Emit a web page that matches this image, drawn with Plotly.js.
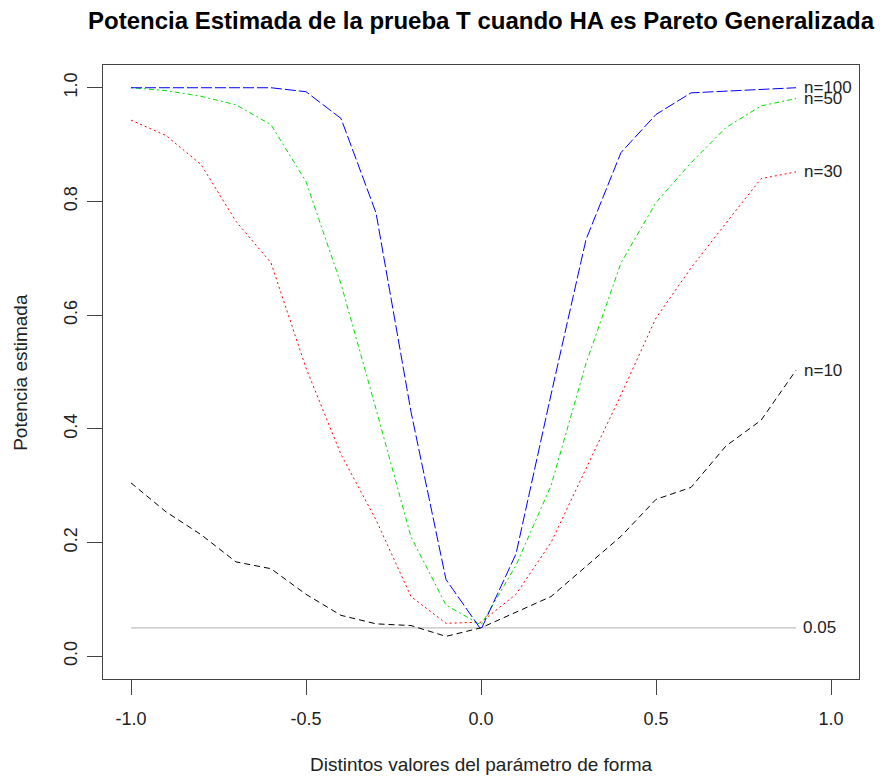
<!DOCTYPE html>
<html>
<head>
<meta charset="utf-8">
<script src="https://cdn.plot.ly/plotly-3.0.1.min.js"></script>
<style>html,body{margin:0;padding:0;background:#fff;}#chart{width:895px;height:780px;}</style>
</head>
<body>
<div id="chart"></div>
<script>
// Shape parameter values
var shapeParam = [-1.0,-0.9,-0.8,-0.7,-0.6,-0.5,-0.4,-0.3,-0.2,-0.1,0.0,0.1,0.2,0.3,0.4,0.5,0.6,0.7,0.8,0.9];
// Estimated power for each sample size
var power_n10  = [0.305,0.254,0.214,0.166,0.154,0.109,0.072,0.057,0.054,0.035,0.050,0.078,0.105,0.158,0.211,0.276,0.297,0.370,0.415,0.503];
var power_n30  = [0.943,0.916,0.865,0.765,0.692,0.507,0.355,0.240,0.105,0.058,0.060,0.109,0.200,0.330,0.460,0.595,0.683,0.762,0.840,0.852];
var power_n50  = [1.000,0.995,0.985,0.970,0.935,0.835,0.655,0.435,0.210,0.090,0.055,0.160,0.300,0.515,0.692,0.798,0.868,0.930,0.968,0.981];
var power_n100 = [1.000,1.000,1.000,1.000,1.000,0.993,0.946,0.780,0.430,0.135,0.047,0.180,0.460,0.733,0.886,0.953,0.991,0.994,0.997,1.000];
var seriesLabels = ["n=10","n=30","n=50","n=100"];
var alphaLevel = 0.05;
var alphaLabel = "0.05";
var xTicks = [-1.0,-0.5,0.0,0.5,1.0];
var xTickText = ["-1.0","-0.5","0.0","0.5","1.0"];
var yTicks = [0.0,0.2,0.4,0.6,0.8,1.0];
var yTickText = ["0.0","0.2","0.4","0.6","0.8","1.0"];

var font = "Liberation Sans, Arial, sans-serif";
var series = [power_n10, power_n30, power_n50, power_n100];
var colors = ["#000000","#ff0000","#00e000","#0000ff"];
var dashes = ["6px,4px","2px,3px","2px,3px,5px,3px","11px,3px"];

var traces = [{
  x: [shapeParam[0], shapeParam[shapeParam.length-1]],
  y: [alphaLevel, alphaLevel],
  mode: "lines", line: {color: "#c0c0c0", width: 1.2}, hoverinfo: "skip"
}];
series.forEach(function(s, i){
  traces.push({x: shapeParam, y: s, mode: "lines",
    line: {color: colors[i], width: 1, dash: dashes[i]}, name: seriesLabels[i]});
});

var last = shapeParam[shapeParam.length-1];
var labelFont = {family: font, size: 17, color: "#222"};
var annotations = series.map(function(s, i){
  return {x: last, y: s[s.length-1], xref: "x", yref: "y", text: seriesLabels[i],
    showarrow: false, xanchor: "left", yanchor: "middle", xshift: 6,
    font: labelFont};
});
annotations.push({x: last, y: alphaLevel, xref: "x", yref: "y", text: alphaLabel,
  showarrow: false, xanchor: "left", yanchor: "middle", xshift: 5,
  font: labelFont});
annotations.push({x: 0.5, y: -0.14, xref: "paper", yref: "paper",
  text: "Distintos valores del parámetro de forma", showarrow: false,
  xanchor: "center", yanchor: "middle", font: {family: font, size: 19, color: "#222"}});
annotations.push({x: -0.11, y: 0.5, xref: "paper", yref: "paper",
  text: "Potencia estimada", showarrow: false, textangle: -90,
  xanchor: "center", yanchor: "middle", font: {family: font, size: 19, color: "#222"}});

var layout = {
  width: 895, height: 780,
  paper_bgcolor: "#fff", plot_bgcolor: "#fff",
  margin: {l: 103, r: 36, t: 65, b: 101},
  showlegend: false,
  title: {text: "Potencia Estimada de la prueba T cuando HA es Pareto Generalizada",
    x: 0.5, xref: "paper", y: 1 - 21/780, yref: "container", yanchor: "middle",
    font: {family: font, size: 24, color: "#000", weight: "bold"}},
  xaxis: {range: [-1.08, 1.08], tickvals: xTicks, ticktext: xTickText,
    showgrid: false, zeroline: false, showline: true, mirror: true,
    linecolor: "#444", linewidth: 1.2, ticks: "outside", ticklen: 15, tickcolor: "#444",
    ticklabelstandoff: 8,
    tickfont: {family: font, size: 18, color: "#222"}},
  yaxis: {range: [-0.04, 1.04], tickvals: yTicks, ticktext: yTickText, tickangle: -90,
    showgrid: false, zeroline: false, showline: true, mirror: true,
    linecolor: "#444", linewidth: 1.2, ticks: "outside", ticklen: 15, tickcolor: "#444",
    ticklabelstandoff: 3,
    tickfont: {family: font, size: 18, color: "#222"}},
  annotations: annotations
};
Plotly.newPlot("chart", traces, layout, {displayModeBar: false, staticPlot: true});
</script>
</body>
</html>
